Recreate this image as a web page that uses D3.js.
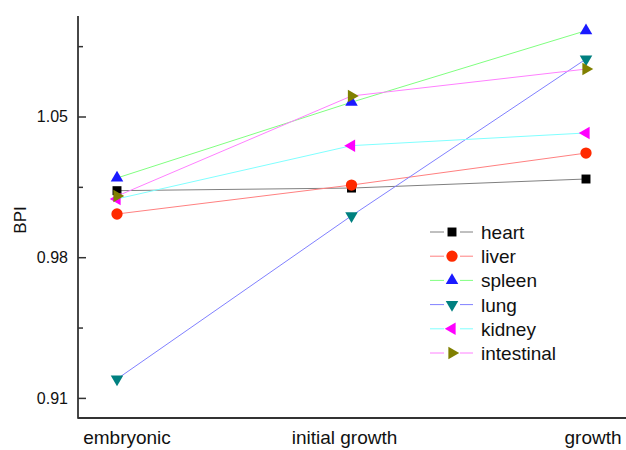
<!DOCTYPE html>
<html lang="en">
<head>
<meta charset="UTF-8">
<title>BPI</title>
<script src="https://d3js.org/d3.v7.min.js"></script>
<style>
    body { margin: 0; background: #fff; }
    svg text { font-family: Arial, "Liberation Sans", sans-serif; fill: #111; }
</style>
</head>
<body>
<div id="chart"></div>
<script>
    // data
    const stages = ["embryonic", "initial growth", "growth"];
    const tissues = ["heart", "liver", "spleen", "lung", "kidney", "intestinal"];
    const heart = [1.0131, 1.0144, 1.0189];
    const liver = [1.0015, 1.0159, 1.0318];
    const spleen = [1.0194, 1.0571, 1.0927];
    const lung = [0.9194, 1.0006, 1.0786];
    const kidney = [1.0090, 1.0355, 1.0418];
    const intestinal = [1.0104, 1.0602, 1.0736];
    const majorTicks = [0.91, 0.98, 1.05];
    const minorTicks = [0.945, 1.015, 1.085];

    const seriesValues = [heart, liver, spleen, lung, kidney, intestinal];
    const lineColors = ["#808080", "#ff8080", "#80ff80", "#8080ff", "#80ffff", "#ff80ff"];
    const markColors = ["#000000", "#ff2a00", "#1a1aff", "#008080", "#ff00ff", "#808000"];
    const markShapes = ["square", "circle", "up", "down", "left", "right"];

    const width = 626, height = 450;
    const svg = d3.select("#chart").append("svg")
        .attr("width", width).attr("height", height);

    const x = d3.scalePoint().domain(stages).range([117, 586]);
    const y = d3.scaleLinear().domain([0.90, 1.10]).range([418, 16]);
    const axisLeft = 78;

    // symbol helper
    function marker(sel, shape, color) {
        let type = d3.symbolTriangle, size = 68, rot = 0;
        if (shape === "square") { type = d3.symbolSquare; size = 80; }
        if (shape === "circle") { type = d3.symbolCircle; size = 100; }
        if (shape === "down") rot = 180;
        if (shape === "left") rot = -90;
        if (shape === "right") rot = 90;
        sel.append("path")
            .attr("d", d3.symbol().type(type).size(size)())
            .attr("transform", `rotate(${rot})`)
            .attr("fill", color);
    }

    // series
    seriesValues.forEach((vals, i) => {
        const pts = vals.map((v, j) => [x(stages[j]), y(v)]);
        svg.append("path")
            .attr("d", d3.line()(pts))
            .attr("fill", "none")
            .attr("stroke", lineColors[i])
            .attr("stroke-width", 1);
        pts.forEach(p => {
            const g = svg.append("g").attr("transform", `translate(${p[0]},${p[1]})`);
            marker(g, markShapes[i], markColors[i]);
        });
    });

    // axes (left + bottom only, ticks pointing inward)
    const yAxis = svg.append("g").attr("transform", `translate(${axisLeft},0)`);
    yAxis.call(d3.axisRight(y).tickValues(majorTicks).tickSize(8).tickFormat(d3.format(".2f")));
    yAxis.append("g").call(d3.axisRight(y).tickValues(minorTicks).tickSize(5).tickFormat(""));
    yAxis.selectAll(".domain").remove();
    yAxis.selectAll(".tick line").attr("stroke", "#333").attr("stroke-width", 1.5);
    yAxis.selectAll(".tick text")
        .attr("x", -10).attr("text-anchor", "end")
        .style("font-size", "16px").attr("fill", "#111");

    svg.append("line")
        .attr("x1", axisLeft).attr("x2", axisLeft)
        .attr("y1", y(1.10)).attr("y2", y(0.90) + 0.75)
        .attr("stroke", "#333").attr("stroke-width", 1.8);
    svg.append("line")
        .attr("x1", axisLeft).attr("x2", width)
        .attr("y1", y(0.90)).attr("y2", y(0.90))
        .attr("stroke", "#333").attr("stroke-width", 1.8);

    // category labels (nudged as in the original)
    const labelShift = [10, -7, 7];
    svg.selectAll(".stage")
        .data(stages)
        .enter().append("text")
        .attr("class", "stage")
        .attr("x", (d, i) => x(d) + labelShift[i])
        .attr("y", 444)
        .attr("text-anchor", "middle")
        .style("font-size", "19px")
        .text(d => d);

    svg.append("text")
        .attr("transform", "translate(26,220) rotate(-90)")
        .attr("text-anchor", "middle")
        .style("font-size", "17px")
        .text("BPI");

    // legend
    const legend = svg.append("g").attr("transform", "translate(430,232)");
    tissues.forEach((name, i) => {
        const row = legend.append("g").attr("transform", `translate(0,${i * 24.2})`);
        row.append("line")
            .attr("x1", 0).attr("x2", 43)
            .attr("stroke", lineColors[i]).attr("stroke-width", 1);
        const m = row.append("g").attr("transform", "translate(22,0)");
        m.append("rect").attr("x", -8).attr("y", -8).attr("width", 16).attr("height", 16).attr("fill", "#fff");
        marker(m, markShapes[i], markColors[i]);
        row.append("text")
            .attr("x", 51).attr("y", 7)
            .style("font-size", "19px")
            .text(name);
    });
</script>
</body>
</html>
